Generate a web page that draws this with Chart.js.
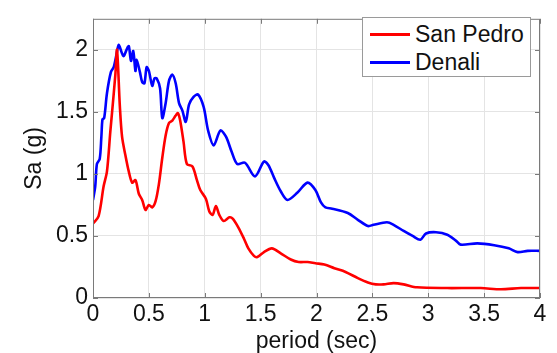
<!DOCTYPE html>
<html>
<head>
<meta charset="utf-8">
<script src="https://cdn.jsdelivr.net/npm/chart.js@4"></script>
<style>
  html, body { margin: 0; padding: 0; background: #fff; }
  #wrap { position: relative; width: 557px; height: 353px; }
  #legend {
    position: absolute; left: 362px; top: 17px; width: 169px; height: 60px;
    border: 1.5px solid #9a9a9a; background: #fff; box-sizing: border-box;
    font-family: "Liberation Sans", Arial, sans-serif; font-size: 23px; color: #111;
  }
  #legend .row { position: absolute; left: 0; height: 28px; line-height: 28px; white-space: nowrap; }
  #legend .swatch { position: absolute; left: 7px; top: 13px; width: 40px; height: 2.5px; }
  #legend .label { position: absolute; left: 52px; top: 0; }
</style>
</head>
<body>
<div id="wrap">
  <canvas id="chart" width="557" height="353"></canvas>
  <div id="legend"></div>
</div>
<script>
// San Pedro response spectrum
const sanPedroPeriod = [0, 0.05, 0.095, 0.125, 0.155, 0.17, 0.2, 0.215, 0.24, 0.26, 0.29, 0.32, 0.35, 0.38, 0.41, 0.44, 0.47, 0.5, 0.53, 0.56, 0.59, 0.62, 0.65, 0.68, 0.71, 0.74, 0.76, 0.78, 0.81, 0.84, 0.89, 0.93, 0.96, 1.01, 1.04, 1.07, 1.1, 1.13, 1.17, 1.22, 1.25, 1.3, 1.35, 1.39, 1.44, 1.47, 1.53, 1.6, 1.68, 1.77, 1.84, 1.92, 1.99, 2.07, 2.16, 2.26, 2.37, 2.46, 2.53, 2.6, 2.69, 2.78, 2.9, 3.17, 3.47, 3.65, 3.83, 4.0];
const sanPedroSa = [0.6, 0.66, 0.9, 1.02, 1.34, 1.49, 1.8, 2.0, 1.55, 1.3, 1.15, 1.02, 0.93, 0.95, 0.84, 0.79, 0.71, 0.75, 0.73, 0.78, 0.92, 1.13, 1.31, 1.41, 1.43, 1.47, 1.49, 1.43, 1.26, 1.08, 1.06, 0.95, 0.87, 0.8, 0.7, 0.67, 0.74, 0.67, 0.62, 0.65, 0.64, 0.57, 0.48, 0.4, 0.34, 0.33, 0.37, 0.4, 0.36, 0.31, 0.29, 0.29, 0.28, 0.27, 0.24, 0.21, 0.16, 0.125, 0.11, 0.11, 0.12, 0.11, 0.086, 0.08, 0.08, 0.07, 0.08, 0.08];

// Denali response spectrum
const denaliPeriod = [0, 0.02, 0.035, 0.06, 0.075, 0.085, 0.1, 0.125, 0.16, 0.185, 0.21, 0.23, 0.26, 0.275, 0.3, 0.32, 0.34, 0.36, 0.38, 0.39, 0.42, 0.44, 0.46, 0.48, 0.5, 0.53, 0.55, 0.57, 0.6, 0.62, 0.65, 0.68, 0.71, 0.74, 0.77, 0.8, 0.83, 0.86, 0.9, 0.94, 0.99, 1.03, 1.08, 1.14, 1.19, 1.24, 1.29, 1.36, 1.45, 1.53, 1.57, 1.62, 1.68, 1.74, 1.83, 1.92, 1.99, 2.04, 2.08, 2.14, 2.28, 2.37, 2.46, 2.51, 2.63, 2.69, 2.78, 2.86, 2.93, 2.98, 3.07, 3.17, 3.25, 3.29, 3.44, 3.59, 3.72, 3.8, 3.89, 4.0];
const denaliSa = [0.79, 0.9, 1.08, 1.12, 1.3, 1.44, 1.45, 1.65, 1.82, 1.86, 1.96, 2.04, 1.97, 1.95, 2.0, 2.03, 1.91, 1.99, 1.83, 1.92, 1.82, 1.74, 1.73, 1.86, 1.83, 1.71, 1.77, 1.77, 1.69, 1.45, 1.57, 1.75, 1.8, 1.73, 1.57, 1.51, 1.42, 1.56, 1.62, 1.64, 1.54, 1.35, 1.23, 1.35, 1.3, 1.18, 1.08, 1.09, 0.98, 1.1, 1.07, 0.97, 0.86, 0.79, 0.85, 0.93, 0.87, 0.77, 0.73, 0.72, 0.685, 0.63, 0.58, 0.59, 0.61, 0.59, 0.54, 0.5, 0.47, 0.52, 0.53, 0.51, 0.46, 0.43, 0.44, 0.425, 0.4, 0.37, 0.38, 0.38];

const seriesNames = ['San Pedro', 'Denali'];
const seriesColors = ['#ff0000', '#0000ff'];
const xTicks = [0, 0.5, 1, 1.5, 2, 2.5, 3, 3.5, 4];
const yTicks = [0, 0.5, 1, 1.5, 2];

function toPoints(xs, ys) {
    return xs.map((x, i) => ({ x: x, y: ys[i] }));
}

const fontFamily = '"Liberation Sans", Arial, sans-serif';

// box around the axes with short inward ticks, matlab style
const frame = {
    id: 'frame',
    afterDatasetsDraw(chart) {
        const ctx = chart.ctx;
        const a = chart.chartArea;
        const xs = chart.scales.x, ys = chart.scales.y;
        ctx.save();
        ctx.strokeStyle = '#7a7a7a';
        ctx.lineWidth = 1;
        ctx.strokeRect(a.left + 0.5, a.top + 0.5, a.right - a.left - 1, a.bottom - a.top - 1);
        ctx.beginPath();
        xTicks.forEach(v => {
            const px = Math.round(xs.getPixelForValue(v)) + 0.5;
            ctx.moveTo(px, a.bottom); ctx.lineTo(px, a.bottom - 5);
            ctx.moveTo(px, a.top); ctx.lineTo(px, a.top + 5);
        });
        yTicks.forEach(v => {
            const py = Math.round(ys.getPixelForValue(v)) + 0.5;
            ctx.moveTo(a.left, py); ctx.lineTo(a.left + 5, py);
            ctx.moveTo(a.right, py); ctx.lineTo(a.right - 5, py);
        });
        ctx.stroke();
        ctx.restore();
    }
};

const chart = new Chart(document.getElementById('chart'), {
    type: 'line',
    data: {
        datasets: [
            { label: seriesNames[0], data: toPoints(sanPedroPeriod, sanPedroSa), borderColor: seriesColors[0] },
            { label: seriesNames[1], data: toPoints(denaliPeriod, denaliSa), borderColor: seriesColors[1] }
        ]
    },
    options: {
        responsive: false,
        animation: false,
        layout: { padding: { left: 0, right: 17, top: 10, bottom: 0 } },
        elements: {
            point: { radius: 0 },
            line: { borderWidth: 2.6, tension: 0.3, fill: false }
        },
        plugins: {
            legend: { display: false },
            tooltip: { enabled: false }
        },
        scales: {
            x: {
                type: 'linear',
                min: 0, max: 4,
                afterFit(s) { s.height = 55; },
                afterBuildTicks(s) { s.ticks = xTicks.map(v => ({ value: v })); },
                ticks: {
                    padding: 3, color: '#111', maxRotation: 0,
                    font: { family: fontFamily, size: 23 },
                    callback: v => String(v)
                },
                grid: { color: '#e4e4e4', drawTicks: false },
                border: { display: false },
                title: {
                    display: true, text: 'period (sec)', color: '#111',
                    font: { family: fontFamily, size: 23, lineHeight: 1 },
                    padding: { top: 0, bottom: 0 }
                }
            },
            y: {
                min: 0, max: 2.25,
                afterFit(s) { s.width = 93; },
                afterBuildTicks(s) { s.ticks = yTicks.map(v => ({ value: v })); },
                ticks: {
                    padding: 5, color: '#111',
                    font: { family: fontFamily, size: 23 },
                    callback: v => String(v)
                },
                grid: { color: '#e4e4e4', drawTicks: false },
                border: { display: false },
                title: {
                    display: true, text: 'Sa (g)', color: '#111',
                    font: { family: fontFamily, size: 23, lineHeight: 1 },
                    padding: { top: 23, bottom: 0 }
                }
            }
        }
    },
    plugins: [frame]
});

// legend box in the upper right corner
const legend = document.getElementById('legend');
chart.data.datasets.forEach((ds, i) => {
    const row = document.createElement('div');
    row.className = 'row';
    row.style.top = (i === 0 ? 2 : 30) + 'px';
    row.innerHTML = '<span class="swatch" style="background:' + ds.borderColor + '"></span>' +
        '<span class="label">' + ds.label + '</span>';
    legend.appendChild(row);
});
</script>
</body>
</html>
